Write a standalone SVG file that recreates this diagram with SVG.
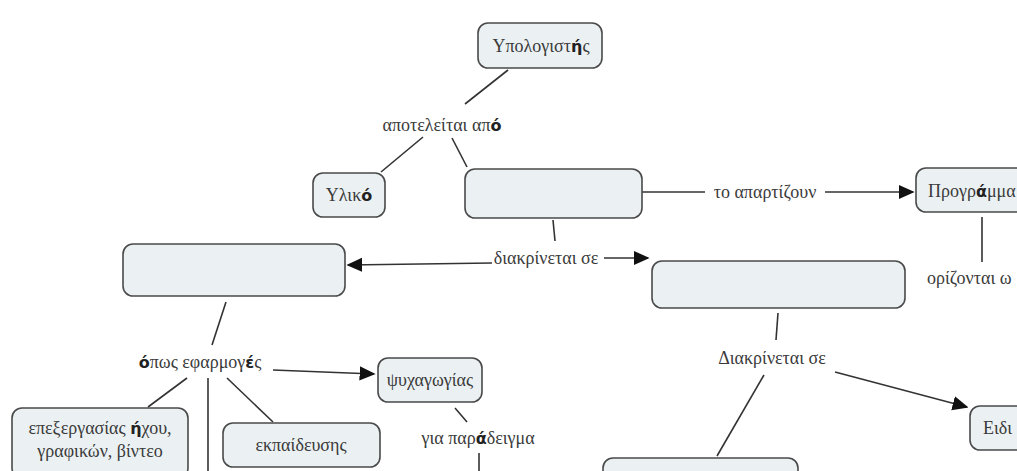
<svg xmlns="http://www.w3.org/2000/svg" width="1017" height="471" viewBox="0 0 1017 471">
<style>
.node rect{fill:#ebf1f3;stroke:#4a4a4a;stroke-width:1.6}
text{font-family:"Liberation Serif","Times New Roman",serif;font-size:18px;fill:#3a3a3a;text-anchor:middle}
.b{font-family:"DejaVu Sans","Liberation Sans",sans-serif;font-weight:bold;font-size:16px;fill:#222}
.c line{stroke:#333;stroke-width:1.6;fill:none}
</style>
<defs>
<marker id="ah" viewBox="0 0 10 10" refX="9" refY="5" markerWidth="16" markerHeight="16" markerUnits="userSpaceOnUse" orient="auto">
<path d="M0,0.5 L10,5 L0,9.5 z" fill="#111"/>
</marker>
</defs>
<rect width="1017" height="471" fill="#fff"/>
<g class="c" id="connectors">
<line x1="508" y1="70" x2="465" y2="104"/>
<line x1="423" y1="137" x2="381" y2="172"/>
<line x1="452" y1="138" x2="467" y2="167"/>
<line x1="642" y1="192" x2="705" y2="192"/>
<line x1="825" y1="192" x2="913" y2="192" marker-end="url(#ah)"/>
<line x1="982" y1="217" x2="982" y2="262"/>
<line x1="553" y1="220" x2="555" y2="241"/>
<line x1="492" y1="263" x2="348" y2="265" marker-end="url(#ah)"/>
<line x1="604" y1="258" x2="648" y2="258" marker-end="url(#ah)"/>
<line x1="226" y1="302" x2="212" y2="345"/>
<line x1="273" y1="370" x2="374" y2="374" marker-end="url(#ah)"/>
<line x1="187" y1="378" x2="148" y2="407"/>
<line x1="208" y1="378" x2="208" y2="471"/>
<line x1="227" y1="378" x2="273" y2="422"/>
<line x1="455" y1="408" x2="467" y2="422"/>
<line x1="479" y1="453" x2="479" y2="471"/>
<line x1="778" y1="313" x2="776" y2="340"/>
<line x1="835" y1="372" x2="967" y2="407" marker-end="url(#ah)"/>
<line x1="764" y1="375" x2="717" y2="456"/>
</g>
<g id="n-ypologistis" class="node"><rect x="478" y="23" width="124" height="45" rx="10"/><text x="541" y="52">Υπολογιστ<tspan class="b">ή</tspan>ς</text></g>
<g id="l-apoteleitai"><text x="442" y="131">αποτελείται απ<tspan class="b">ό</tspan></text></g>
<g id="n-yliko" class="node"><rect x="313" y="173" width="72" height="44" rx="10"/><text x="349" y="201">Υλικ<tspan class="b">ό</tspan></text></g>
<g id="n-empty1" class="node"><rect x="465" y="169" width="177" height="49" rx="10"/></g>
<g id="l-apartizoun"><text x="765" y="198">το απαρτίζουν</text></g>
<g id="n-programmata" class="node"><rect x="916" y="168" width="120" height="44" rx="10"/><text x="928" y="197" style="text-anchor:start">Προγρ<tspan class="b">ά</tspan>μμα</text></g>
<g id="l-orizontai"><text x="927" y="284" style="text-anchor:start">ορίζονται ω</text></g>
<g id="l-diakrinetai1"><text x="546" y="264">διακρίνεται σε</text></g>
<g id="n-empty-left" class="node"><rect x="123" y="244" width="222" height="52" rx="10"/></g>
<g id="n-empty-right" class="node"><rect x="652" y="261" width="253" height="47" rx="10"/></g>
<g id="l-opws"><text x="200" y="368"><tspan class="b">ό</tspan>πως εφαρμογ<tspan class="b">έ</tspan>ς</text></g>
<g id="n-psychagogias" class="node"><rect x="378" y="358" width="104" height="44" rx="10"/><text x="430" y="386">ψυχαγωγίας</text></g>
<g id="l-paradeigma"><text x="478" y="444">για παρ<tspan class="b">ά</tspan>δειγμα</text></g>
<g id="n-epexergasias" class="node"><rect x="12" y="408" width="176" height="70" rx="10"/><text x="100" y="434">επεξεργασίας <tspan class="b">ή</tspan>χου,</text><text x="100" y="457">γραφικών, βίντεο</text></g>
<g id="n-ekpaideysis" class="node"><rect x="223" y="423" width="157" height="44" rx="10"/><text x="301" y="451">εκπαίδευσης</text></g>
<g id="l-diakrinetai2"><text x="772" y="364">Διακρίνεται σε</text></g>
<g id="n-eidi" class="node"><rect x="970" y="406" width="70" height="44" rx="10"/><text x="983" y="434" style="text-anchor:start">Ειδι</text></g>
<g id="n-empty-bottom" class="node"><rect x="603" y="458" width="195" height="40" rx="10"/></g>
</svg>
